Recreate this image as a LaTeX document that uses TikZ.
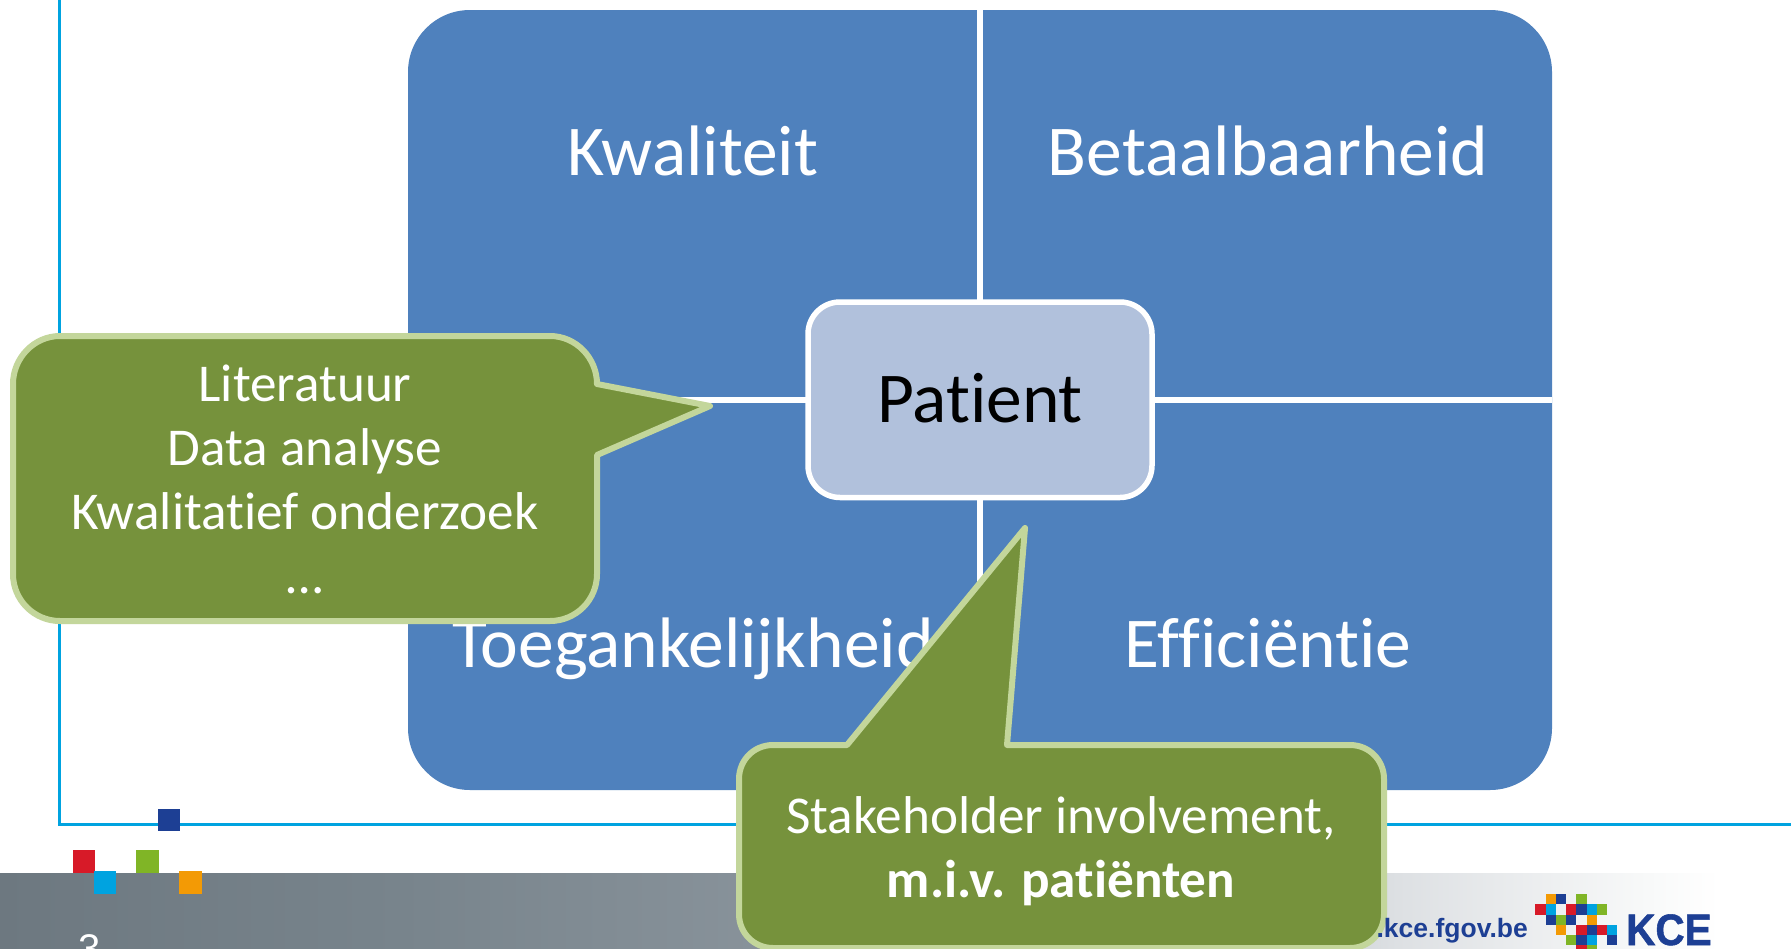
\documentclass[tikz,border=0pt]{standalone}
\usepackage{fontspec}
\setmainfont[Ligatures=NoCommon]{Carlito}
\newfontfamily\arialfont{Liberation Sans}
\newfontfamily\kcefont[BoldFeatures={FakeStretch=0.92,FakeBold=1.2}]{Liberation Sans}
\definecolor{quadblue}{HTML}{4F81BD}
\definecolor{patientfill}{HTML}{B1C1DC}
\definecolor{calloutfill}{HTML}{76923C}
\definecolor{calloutline}{HTML}{C3D69B}
\definecolor{frameblue}{HTML}{00A3E0}
\definecolor{kcenavy}{HTML}{1D3F94}
\definecolor{kcered}{HTML}{D71A28}
\definecolor{kcegreen}{HTML}{80B526}
\definecolor{kcecyan}{HTML}{00A3E0}
\definecolor{kceorange}{HTML}{F39A05}
\definecolor{bandA}{HTML}{6D7880}
\definecolor{bandB}{HTML}{78848C}
\definecolor{bandC}{HTML}{8A949C}
\definecolor{bandD}{HTML}{C4CACE}
\definecolor{bandE}{HTML}{DDE0E3}
\definecolor{bandF}{HTML}{F8F9F9}
\pgfdeclarehorizontalshading{bandshade}{100bp}{
  color(0bp)=(bandA);
  color(25bp)=(bandA);
  color(36.2bp)=(bandB);
  color(47.5bp)=(bandC);
  color(60bp)=(bandD);
  color(64bp)=(bandE);
  color(71bp)=(bandF);
  color(73bp)=(white);
  color(100bp)=(white)}
\tikzset{
  quadlabel/.style={text=white,font=\fontsize{71.5}{84}\selectfont,anchor=base},
  calloutshape/.style={fill=calloutfill,draw=calloutline,line width=6pt,line join=round},
  callouttext/.style={text=white,font=\fontsize{53.2}{64}\selectfont,align=center,anchor=base},
  divider/.style={draw=white,line width=5.5pt},
  frame/.style={draw=frameblue,line width=3pt},
}
\begin{document}
\begin{tikzpicture}[x=1pt,y=-1pt]
\useasboundingbox (0,0) rectangle (1791,948);
\clip (0,0) rectangle (1791,948);
\fill[white] (0,0) rectangle (1791,948);
% footer band
\shade[shading=bandshade] (0,873) rectangle (1791,948);
% frame line
\coordinate (frameTop) at (59,-5);
\coordinate (frameCorner) at (59,824);
\coordinate (frameEnd) at (1795,824);
\draw[frame] (frameTop) -- (frameCorner) -- (frameEnd);
% deco squares
\fill[kcered] (73,850) rectangle (95,873);
\fill[kcegreen] (136,850) rectangle (159,873);
\fill[kcenavy] (158,809) rectangle (180,831);
\fill[kcecyan] (94,871) rectangle (116,894);
\fill[kceorange] (179,871) rectangle (202,894);
\node[text=white,font=\arialfont\fontsize{40}{48}\selectfont,anchor=base] (pagenum) at (90,962) {3};
% blue square
\fill[quadblue,rounded corners=62pt] (408,10) rectangle (1552,790);
\node[inner sep=0pt,minimum width=343pt,minimum height=194pt] (patientbox) at (980,400) {};
\coordinate (crossTop) at (980,10);
\coordinate (crossBottom) at (980,790);
\coordinate (crossLeft) at (408,400);
\coordinate (crossRight) at (1552,400);
\draw[divider] (patientbox.north) -- (crossTop);
\draw[divider] (patientbox.south) -- (crossBottom);
\draw[divider] (patientbox.west) -- (crossLeft);
\draw[divider] (patientbox.east) -- (crossRight);
\node[quadlabel] (kwal) at (693,175) {Kwaliteit};
\node[quadlabel] (betaal) at (1268,175) {Betaalbaarheid};
\node[quadlabel] (toeg) at (693,667) {Toegankelijkheid};
\node[quadlabel] (effi) at (1268,667) {Efficiëntie};
% patient
\draw[fill=patientfill,draw=white,line width=5.5pt,rounded corners=32pt] (808,302) rectangle (1152,497.5);
\node[text=black,font=\fontsize{71.5}{84}\selectfont,anchor=base] (patient) at (980,422) {Patient};
% left callout
\draw[calloutshape] (60,336) -- (550,336) .. controls (576,336) and (597,358) .. (597,384)
  -- (710,406) -- (597,455) -- (597,574) .. controls (597,600) and (576,621) .. (550,621)
  -- (60,621) .. controls (34,621) and (13,600) .. (13,574) -- (13,384)
  .. controls (13,358) and (34,336) .. (60,336) -- cycle;
\node[callouttext] (lit1) at (305,401) {Literatuur};
\node[callouttext] (lit2) at (305,465) {Data analyse};
\node[callouttext] (lit3) at (305,529) {Kwalitatief onderzoek};
\node[callouttext] (lit4) at (305,593) {…};
% bottom callout
\draw[calloutshape] (773,745) -- (847,745) -- (1025,528) -- (1007,745) -- (1350,745)
  .. controls (1369,745) and (1384,760) .. (1384,779) -- (1384,914)
  .. controls (1384,933) and (1369,948) .. (1350,948) -- (773,948)
  .. controls (754,948) and (739,933) .. (739,914) -- (739,779)
  .. controls (739,760) and (754,745) .. (773,745) -- cycle;
\node[callouttext] (stake1) at (1061,833) {Stakeholder involvement,};
\node[callouttext] (stake2) at (1061,897) {\bfseries m.i.v. patiënten};
% logo
\node[text=kcenavy,inner sep=0pt,font=\arialfont\bfseries\fontsize{26.5}{32}\selectfont,anchor=base east] (url) at (1528,937) {.kce.fgov.be};
\foreach \c/\r/\col in {1/0/kceorange,2/0/kcenavy,4/0/kcegreen,
  0/1/kcered,1/1/kcecyan,3/1/kcered,4/1/kcenavy,5/1/kcecyan,6/1/kcegreen,
  1/2/kcenavy,2/2/kcegreen,3/2/kcenavy,5/2/kceorange,
  2/3/kceorange,4/3/kcered,5/3/kcenavy,6/3/kcered,7/3/kcecyan,
  3/4/kcegreen,4/4/kcenavy,5/4/kcecyan,7/4/kcenavy,
  4/5/kcered,5/5/kcegreen}
  \fill[\col] ({1535.3+\c*10.25},{894+\r*10.25}) rectangle ++(10.3,10.3);
\node[text=kcenavy,inner sep=0pt,font=\kcefont\bfseries\fontsize{44}{52}\selectfont,anchor=base west] (kce) at (1626,945) {KCE};
\end{tikzpicture}
\end{document}
